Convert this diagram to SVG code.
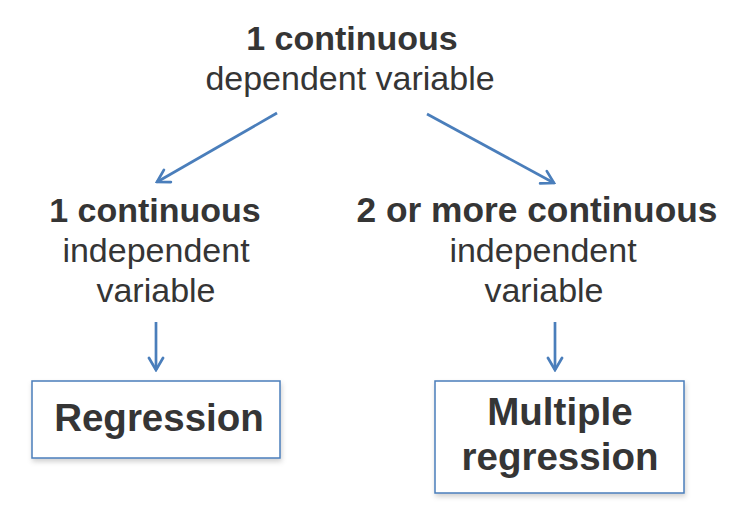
<svg xmlns="http://www.w3.org/2000/svg" width="753" height="514" viewBox="0 0 753 514">
<style>
text{font-family:"Liberation Sans",Arial,Helvetica,sans-serif;fill:#353535;text-anchor:middle}
.b{font-weight:bold;font-size:34px}
.r{font-size:34px}
.bx{font-weight:bold;font-size:38.5px}
.box{fill:#fff;stroke:#4a7ebb;stroke-width:1.5}
.con line{stroke:#4a7ebb;stroke-width:2.7;fill:none}
</style>
<defs>
<marker id="ah" markerUnits="userSpaceOnUse" viewBox="-14 -9 16 18" refX="0" refY="0" markerWidth="16" markerHeight="18" orient="auto">
<path d="M-12,-7 L0,0 L-12,7" fill="none" stroke="#4a7ebb" stroke-width="2.7" stroke-linejoin="miter" stroke-linecap="round"/>
</marker>
<filter id="sh" x="-10%" y="-10%" width="120%" height="130%">
<feDropShadow dx="1" dy="3" stdDeviation="2.5" flood-color="#000" flood-opacity="0.18"/>
</filter>
</defs>
<rect width="753" height="514" fill="#fff"/>
<g id="top">
<text class="b" x="352" y="50">1 continuous</text>
<text class="r" x="350" y="90">dependent variable</text>
</g>
<g id="left">
<text class="b" x="155" y="222">1 continuous</text>
<text class="r" x="156" y="262">independent</text>
<text class="r" x="156" y="302">variable</text>
</g>
<g id="right">
<text class="b" x="537" y="222" style="font-size:35.3px">2 or more continuous</text>
<text class="r" x="543" y="262">independent</text>
<text class="r" x="544" y="302">variable</text>
</g>
<g id="regression">
<rect class="box" x="32" y="381" width="248" height="77" filter="url(#sh)"/>
<text class="bx" x="159" y="431">Regression</text>
</g>
<g id="multiple">
<rect class="box" x="435" y="381" width="249" height="112" filter="url(#sh)"/>
<text class="bx" x="560" y="425">Multiple</text>
<text class="bx" x="560" y="470">regression</text>
</g>
<g class="con" id="connectors">
<line x1="277" y1="113" x2="157" y2="182" marker-end="url(#ah)"/>
<line x1="427" y1="114" x2="554" y2="183" marker-end="url(#ah)"/>
<line x1="156" y1="322" x2="156" y2="370" marker-end="url(#ah)"/>
<line x1="555" y1="322" x2="555" y2="370" marker-end="url(#ah)"/>
</g>
</svg>
